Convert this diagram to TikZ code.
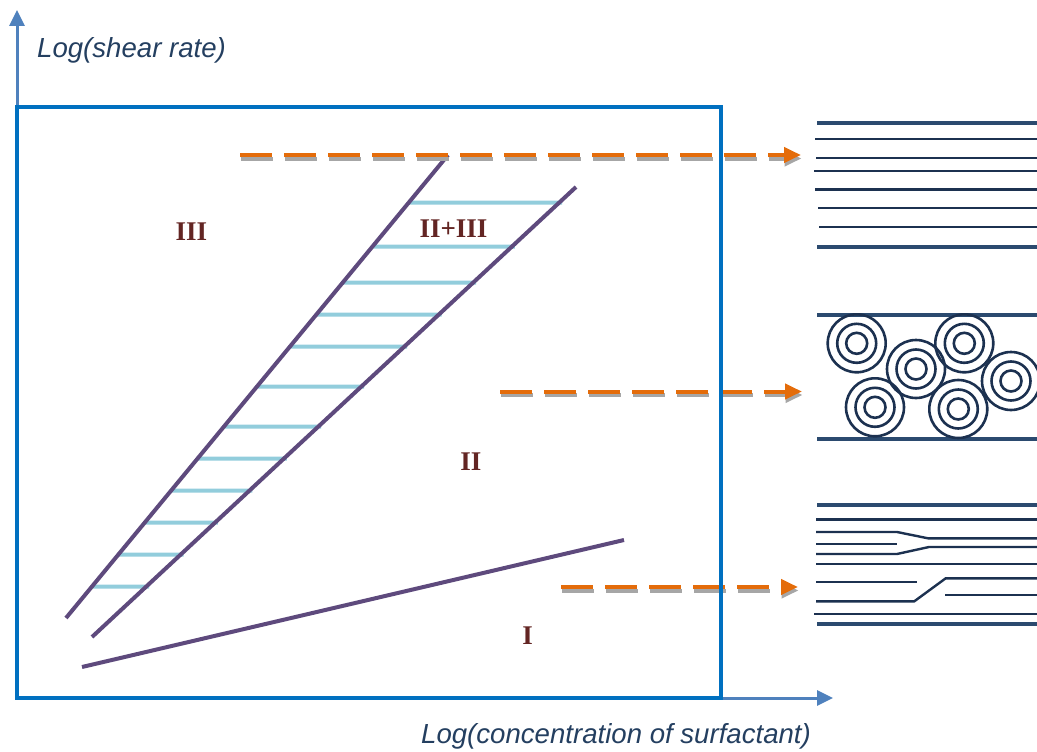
\documentclass[tikz,border=0pt]{standalone}
\usepackage{fontspec}
\setmainfont{Liberation Serif}
\newfontfamily\axisfont{Liberation Sans}
\usetikzlibrary{arrows.meta,calc}

\definecolor{frameblue}{HTML}{0070C0}
\definecolor{axisblue}{HTML}{4F81BD}
\definecolor{labelnavy}{HTML}{243F60}
\definecolor{boundcol}{HTML}{5E4A7D}
\definecolor{hatchcol}{HTML}{92CDDC}
\definecolor{flowcol}{HTML}{E46C0A}
\definecolor{shadecol}{HTML}{A6A6A6}
\definecolor{phasered}{HTML}{632523}
\definecolor{navy}{HTML}{1C3150}
\definecolor{navywall}{HTML}{2B4A6F}

\begin{document}
\begin{tikzpicture}[x=1pt,y=-1pt,
  frame/.style={draw=frameblue,line width=3.5pt},
  axisline/.style={draw=axisblue,line width=3pt,-{Triangle[length=16pt,width=15pt]}},
  axislabel/.style={font=\axisfont\itshape\fontsize{27.6}{32}\selectfont,text=labelnavy,inner sep=0pt,anchor=base west},
  boundary/.style={draw=boundcol,line width=4pt},
  hatchline/.style={draw=hatchcol,line width=4pt},
  phase/.style={font=\bfseries\fontsize{27}{30}\selectfont,text=phasered,inner sep=0pt,anchor=base},
  flowline/.style={draw=flowcol,line width=4pt,dash pattern=on 32pt off 12pt,-{Triangle[length=17pt,width=15pt]}},
  flowshade/.style={flowline,draw=shadecol},
  layer/.style={draw=navy,line width=2.4pt},
  wall/.style={draw=navywall,line width=4.2pt},
  ring/.style={draw=navy,line width=2.6pt},
]
\useasboundingbox (0,0) rectangle (1037,752);

% axes
\coordinate (origin) at (17,698);
\coordinate (ytip) at (17,10);
\coordinate (xtip) at (833,698);
\draw[axisline] (origin) -- (ytip);
\draw[axisline] (origin) -- (xtip);
\node[axislabel] (ylab) at (37,58) {Log(shear rate)};
\node[axislabel] (xlab) at (421,743) {Log(concentration of surfactant)};

% phase boundaries
\coordinate (Lb) at (66,618);  \coordinate (Lt) at (448,155);
\coordinate (Rb) at (92,637);  \coordinate (Rt) at (576,187);
\coordinate (Bl) at (82,667);  \coordinate (Br) at (624,540);

% hatching of the II+III coexistence band
\foreach \y in {202.7,246.7,282.7,314.7,346.7,386.7,426.7,458.7,490.7,522.7,554.7,586.7}{
  \draw[hatchline] ($(Lb)!{(618-\y)/463}!(Lt)$) -- ($(Rb)!{(637-\y)/450}!(Rt)+(3,0)$);
}
\draw[boundary] (Lb) -- (Lt);
\draw[boundary] (Rb) -- (Rt);
\draw[boundary] (Bl) -- (Br);

% phase labels
\node[phase] (p3)  at (191.5,240) {III};
\node[phase] (p23) at (453.5,237) {II+III};
\node[phase] (p2)  at (471,470) {II};
\node[phase] (p1)  at (527.5,644) {I};

% flow arrows to the structure sketches
\coordinate (f1s) at (240,155);   \coordinate (f1e) at (801,155);
\coordinate (f2s) at (500,391.5); \coordinate (f2e) at (802,391.5);
\coordinate (f3s) at (561,587);   \coordinate (f3e) at (798,587);
\foreach \s/\e in {f1s/f1e,f2s/f2e,f3s/f3e}{
  \draw[flowshade] ([shift={(0.5pt,-3.5pt)}]\s) -- ([shift={(0.5pt,-3.5pt)}]\e);
  \draw[flowline] (\s) -- (\e);
}

% diagram frame
\draw[frame] (17,107) rectangle (721,698);

% sketch: aligned lamellae
\draw[wall] (817,122.7) -- (1037,122.7);
\draw[wall] (817,247) -- (1037,247);
\foreach \x/\y in {815/139,816/157.7,814/170.7,815/189.3,818/208,819/226.7}{
  \draw[layer] (\x,\y) -- (1037,\y);
}

% sketch: multilamellar vesicles (onions)
\draw[wall] (817,314.7) -- (1037,314.7);
\draw[wall] (817,439) -- (1037,439);
\foreach \cx/\cy in {856.7/343.3,916/369,964.3/343.3,875/407.3,958.3/409,1011/381}{
  \draw[ring] (\cx,\cy) circle[radius=29pt];
  \draw[ring] (\cx,\cy) circle[radius=19.5pt];
  \draw[ring] (\cx,\cy) circle[radius=10.5pt];
}

% sketch: disordered lamellae with defects
\draw[wall] (817,504.7) -- (1037,504.7);
\draw[wall] (817,623.7) -- (1037,623.7);
\draw[layer] (816,519.3) -- (1037,519.3);
\draw[layer] (816,532) -- (897,532) -- (928,538.3) -- (1037,538.3);
\draw[layer] (816,543.7) -- (897,543.7);
\draw[layer] (816,554) -- (897,554) -- (929,547) -- (1037,547);
\draw[layer] (816,563.7) -- (1037,563.7);
\draw[layer] (816,581.7) -- (916.7,581.7);
\draw[layer] (816,601.3) -- (914.3,601.3) -- (945.7,578.3) -- (1037,578.3);
\draw[layer] (945,595) -- (1037,595);
\draw[layer] (814,613.7) -- (1037,613.7);
\end{tikzpicture}
\end{document}
